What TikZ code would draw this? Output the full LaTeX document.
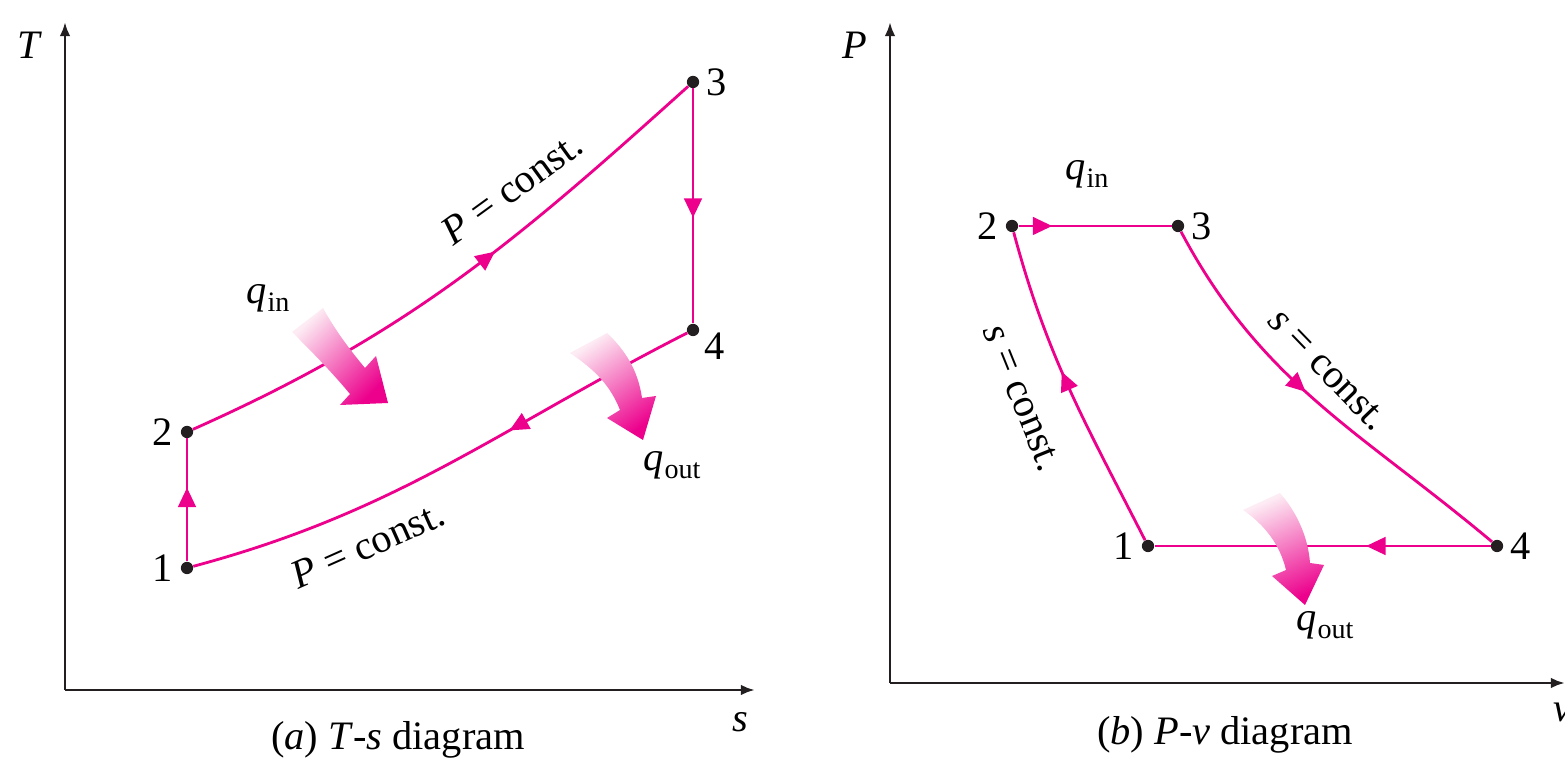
\documentclass[tikz,border=0pt]{standalone}
\usepackage{fontspec}
\setmainfont{Liberation Serif}
\usetikzlibrary{arrows.meta,decorations.markings,positioning}
\definecolor{cyclemag}{RGB}{236,0,140}
\definecolor{cyclepale}{RGB}{253,236,244}
\definecolor{axisdark}{RGB}{35,31,32}
\newcommand{\qsub}[1]{\textit{q}\kern0.5pt\raisebox{-0.45ex}{\fontsize{16}{16}\selectfont #1}}

\begin{document}
\begin{tikzpicture}[x=0.02cm,y=0.02cm,
  every node/.style={font=\fontsize{23}{27}\selectfont},
  axis/.style={line width=1.6pt,axisdark,-{Latex[length=8pt,width=6pt]}},
  proc/.style={line width=1.6pt,cyclemag},
  dot/.style={circle,fill=axisdark,inner sep=0pt,minimum size=7pt},
  lbl/.style={inner sep=1pt},
  midarrow/.style={postaction={decorate},decoration={markings,mark=at position #1 with {\arrow{Triangle[length=11pt,width=10pt]}}}},
  heat/.style={top color=cyclepale,bottom color=cyclemag,shading angle=#1}]
  \useasboundingbox (0,0) rectangle (1565,760);

  % (a) T-s diagram
  \coordinate (Oa) at (65,70); \coordinate (Ta) at (65,738); \coordinate (Sa) at (755,70);
  \draw[axis] (Oa) -- (Ta);
  \draw[axis] (Oa) -- (Sa);
  \node (tlab) at (30,715) {\textit{T}};
  \node (slab) at (740,38) {\textit{s}};
  \node[dot] (a1) at (187,192) {}; \node[dot] (a2) at (187,328) {};
  \node[dot] (a3) at (693,678) {}; \node[dot] (a4) at (693,430) {};
  \node[lbl,left=3pt of a1] (na1) {1};
  \node[lbl,left=3pt of a2] (na2) {2};
  \node[lbl,right=3pt of a3] (na3) {3};
  \node[lbl,below right=-2pt and 3pt of a4] (na4) {4};
  \draw[proc,midarrow=0.6] (a1) -- (a2);
  \draw[proc,midarrow=0.58] (a2) to[out=24,in=-138] (a3);
  \draw[proc,midarrow=0.55] (a3) -- (a4);
  \draw[proc,midarrow=0.37] (a4) to[out=207,in=15] (a1);
  \node[rotate=36] (pa) at (512,572) {\textit{P} = const.};
  \node[rotate=24] (pb) at (368,215) {\textit{P} = const.};
  \shade[heat=45] (292,428) -- (323,452) .. controls (335,430) and (350,410) .. (365,392) -- (376,404)
    -- (388,357) -- (340,355) -- (350,366) .. controls (330,390) and (310,410) .. (292,428) -- cycle;
  \shade[heat=35] (570,407) -- (607,427) .. controls (625,410) and (638,390) .. (642,362) -- (656,364)
    -- (643,320) -- (607,342) -- (620,350) .. controls (610,375) and (595,390) .. (570,407) -- cycle;
  \node (qina) at (268,462) {\qsub{in}};
  \node (qouta) at (672,295) {\qsub{out}};
  \node (capa) at (398,20) {(\textit{a}) \textit{T}-\textit{s} diagram};

  % (b) P-v diagram
  \coordinate (Ob) at (890,77); \coordinate (Pb) at (890,738); \coordinate (Vb) at (1565,77);
  \draw[axis] (Ob) -- (Pb);
  \draw[axis] (Ob) -- (Vb);
  \node (plab) at (855,715) {\textit{P}};
  \node (vlab) at (1562,48) {\textit{ν}};
  \node[dot] (b1) at (1148,214) {}; \node[dot] (b2) at (1012,534) {};
  \node[dot] (b3) at (1178,534) {}; \node[dot] (b4) at (1497,214) {};
  \node[lbl,left=3pt of b1] (nb1) {1};
  \node[lbl,left=3pt of b2] (nb2) {2};
  \node[lbl,right=3pt of b3] (nb3) {3};
  \node[lbl,right=3pt of b4] (nb4) {4};
  \draw[proc,midarrow=0.22] (b2) -- (b3);
  \draw[proc,midarrow=0.46] (b3) to[out=-62,in=140] (b4);
  \draw[proc,midarrow=0.37] (b4) -- (b1);
  \draw[proc,midarrow=0.56] (b1) to[out=117,in=-75] (b2);
  \node[rotate=-46] (sa) at (1328,390) {\textit{s} = const.};
  \node[rotate=-68] (sb) at (1022,362) {\textit{s} = const.};
  \shade[heat=24] (1243,250) -- (1280,267) .. controls (1295,250) and (1308,225) .. (1310,197) -- (1324,195)
    -- (1305,155) -- (1272,184) -- (1286,190) .. controls (1280,215) and (1265,235) .. (1243,250) -- cycle;
  \node (qinb) at (1087,586) {\qsub{in}};
  \node (qoutb) at (1325,135) {\qsub{out}};
  \node (capb) at (1225,25) {(\textit{b}) \textit{P}-\textit{ν} diagram};
\end{tikzpicture}
\end{document}
